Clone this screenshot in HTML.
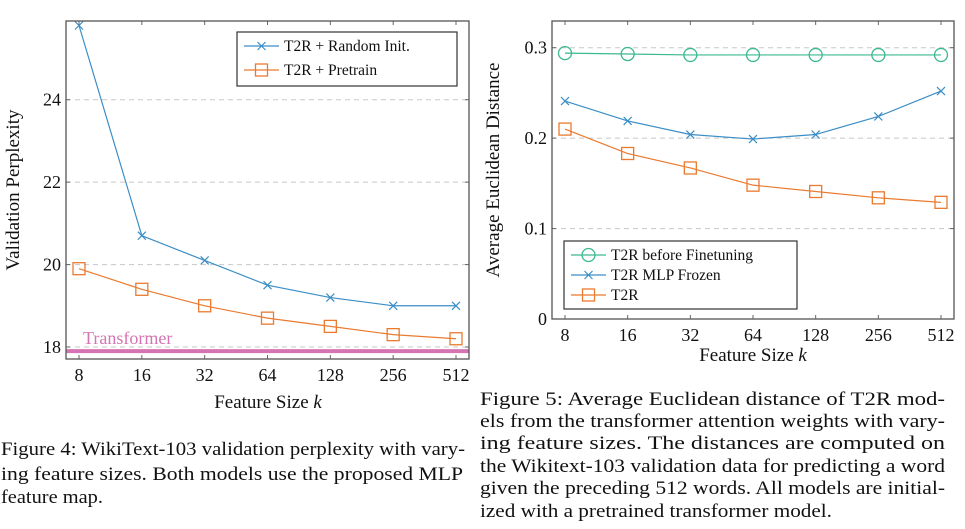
<!DOCTYPE html>
<html><head><meta charset="utf-8"><style>
html,body{margin:0;padding:0;background:#fff;}
svg{display:block;font-family:"Liberation Serif",serif;}
</style></head><body>
<svg id="root" width="965" height="529" viewBox="0 0 965 529">
<g id="left"></g>
<g id="right"></g>
<g font-size="19" fill="#111">
<text x="1" y="455" textLength="464" lengthAdjust="spacingAndGlyphs">Figure 4: WikiText-103 validation perplexity with vary-</text>
<text x="1" y="480" textLength="462" lengthAdjust="spacingAndGlyphs">ing feature sizes.  Both models use the proposed MLP</text>
<text x="1" y="503" textLength="102" lengthAdjust="spacingAndGlyphs">feature map.</text>
</g>
<g font-size="19" fill="#111">
<text x="480" y="405" textLength="465" lengthAdjust="spacingAndGlyphs">Figure 5:  Average Euclidean distance of T2R mod-</text>
<text x="480" y="427" textLength="465" lengthAdjust="spacingAndGlyphs">els from the transformer attention weights with vary-</text>
<text x="480" y="449" textLength="465" lengthAdjust="spacingAndGlyphs">ing feature sizes.   The distances are computed on</text>
<text x="480" y="472" textLength="465" lengthAdjust="spacingAndGlyphs">the Wikitext-103 validation data for predicting a word</text>
<text x="480" y="494" textLength="465" lengthAdjust="spacingAndGlyphs">given the preceding 512 words.  All models are initial-</text>
<text x="480" y="517" textLength="352" lengthAdjust="spacingAndGlyphs">ized with a pretrained transformer model.</text>
</g>
</svg>
<script>
const categories = ["8","16","32","64","128","256","512"];
const leftRandom = [25.8,20.7,20.1,19.5,19.2,19.0,19.0];
const leftPretrain = [19.9,19.4,19.0,18.7,18.5,18.3,18.2];
const transformerPPL = [17.9];
const leftTicks = [18,20,22,24];
const rightBefore = [0.294,0.293,0.292,0.292,0.292,0.292,0.292];
const rightFrozen = [0.241,0.219,0.204,0.199,0.204,0.224,0.252];
const rightT2R = [0.210,0.183,0.167,0.148,0.141,0.134,0.129];
const rightTicks = [0,0.1,0.2,0.3];
const rightTickLabels = ["0","0.1","0.2","0.3"];

const NS="http://www.w3.org/2000/svg";
const BLUE="#3b8ec6", ORANGE="#ea7a2f", GREEN="#3bb98c", PINK="#d474b2";
function mk(parent,tag,attrs){const e=document.createElementNS(NS,tag);for(const k in attrs)e.setAttribute(k,attrs[k]);parent.appendChild(e);return e;}
function txt(parent,x,y,s,attrs){const t=mk(parent,'text',Object.assign({x:x,y:y},attrs||{}));t.textContent=s;return t;}
function marker(g,type,x,y,color){
  if(type==='x'){mk(g,'path',{d:`M${x-4} ${y-4}L${x+4} ${y+4}M${x-4} ${y+4}L${x+4} ${y-4}`,stroke:color,'stroke-width':1.2,fill:'none'});}
  else if(type==='s'){mk(g,'rect',{x:x-6,y:y-6,width:12,height:12,stroke:color,'stroke-width':1.3,fill:'none'});}
  else {mk(g,'circle',{cx:x,cy:y,r:6.5,stroke:color,'stroke-width':1.3,fill:'none'});}
}
function chart(g,cfg){
  const xs=i=>cfg.x0+i*(cfg.x1-cfg.x0)/(categories.length-1);
  const ys=v=>cfg.yAt0+(v-cfg.v0)*(cfg.yAt1-cfg.yAt0)/(cfg.v1-cfg.v0);
  cfg.ticks.forEach((t,i)=>{
    const y=ys(t);
    if(cfg.grid(t)){const l=mk(g,'line',{x1:cfg.L,x2:cfg.R,y1:y,y2:y,stroke:'#c8c8c8','stroke-dasharray':'5 4','stroke-width':1});
      
      }
    mk(g,'line',{x1:cfg.L,x2:cfg.L+4,y1:y,y2:y,stroke:'#666'});
    mk(g,'line',{x1:cfg.R-4,x2:cfg.R,y1:y,y2:y,stroke:'#666'});
    const tl=txt(g,cfg.L-5,y+6,cfg.labels[i],{'text-anchor':'end','font-size':18,fill:'#111'});
    
    
  });
  categories.forEach((c,i)=>{
    const x=xs(i);
    mk(g,'line',{x1:x,x2:x,y1:cfg.B,y2:cfg.B-4,stroke:'#666'});
    mk(g,'line',{x1:x,x2:x,y1:cfg.T,y2:cfg.T+4,stroke:'#666'});
    const tl=txt(g,x,cfg.B+22,c,{'text-anchor':'middle','font-size':18,fill:'#111'});
    
    
  });
  cfg.extra && cfg.extra(g,xs,ys);
  cfg.series.forEach(s=>{
    const sg=mk(g,'g',{});
    
    
    mk(sg,'polyline',{points:s.data.map((v,i)=>xs(i)+','+ys(v)).join(' '),fill:'none',stroke:s.color,'stroke-width':1.2});
    s.data.forEach((v,i)=>marker(sg,s.m,xs(i),ys(v),s.color));
  });
  const box=mk(g,'rect',{x:cfg.L,y:cfg.T,width:cfg.R-cfg.L,height:cfg.B-cfg.T,fill:'none',stroke:'#555','stroke-width':1.3});
  
  
  const xt=txt(g,cfg.xtx,cfg.xty,'Feature Size ',{'text-anchor':'middle','font-size':19,fill:'#111'});
  const k=mk(xt,'tspan',{'font-style':'italic'});k.textContent='k';
  
  
  const yt=txt(g,0,0,cfg.ytitle,{'text-anchor':'middle','font-size':19,fill:'#111',transform:`translate(${cfg.ytx},${cfg.yty}) rotate(-90)`});
  
  
  const lg=mk(g,'g',{});
  
  
  mk(lg,'rect',{x:cfg.leg[0],y:cfg.leg[1],width:cfg.leg[2],height:cfg.leg[3],fill:'#fff',stroke:'#333','stroke-width':1.2});
  cfg.series.forEach((s,i)=>{
    const y=cfg.leg[1]+cfg.legY0+i*cfg.legDy;
    const e=mk(lg,'g',{});
    
    
    mk(e,'line',{x1:cfg.leg[0]+7,x2:cfg.leg[0]+42,y1:y,y2:y,stroke:s.color,'stroke-width':1.2});
    marker(e,s.m,cfg.leg[0]+24.5,y,s.color);
    txt(e,cfg.leg[0]+47,y+5,s.label,{'font-size':15.5,fill:'#111'});
  });
}
chart(document.getElementById('left'),{
  L:66,R:469,T:21,B:359,x0:79,x1:456,v0:18,v1:24,yAt0:347,yAt1:99.7,
  ticks:leftTicks,labels:leftTicks.map(String),grid:t=>true,
  xtx:268,xty:408,ytx:19,yty:190,ytitle:'Validation Perplexity',
  leg:[237,32,220,54],legY0:14,legDy:24,
  series:[{name:'series-random-init',data:leftRandom,color:BLUE,m:'x',label:'T2R + Random Init.'},
          {name:'series-pretrain',data:leftPretrain,color:ORANGE,m:'s',label:'T2R + Pretrain'}],
  extra:(g,xs,ys)=>{
    const y=ys(transformerPPL[0]);
    const l=mk(g,'line',{x1:66,x2:469,y1:y,y2:y,stroke:PINK,'stroke-width':4});
    
    
    const t=txt(g,83,y-7,'Transformer',{'font-size':18,fill:PINK});
    
    
  }
});
chart(document.getElementById('right'),{
  L:552,R:954,T:21,B:319,x0:565,x1:941,v0:0,v1:0.3,yAt0:319,yAt1:47.7,
  ticks:rightTicks,labels:rightTickLabels,grid:t=>t>0,
  xtx:753,xty:361,ytx:499,yty:170,ytitle:'Average Euclidean Distance',
  leg:[564,241,233,68],legY0:14,legDy:20,
  series:[{name:'series-before-finetuning',data:rightBefore,color:GREEN,m:'o',label:'T2R before Finetuning'},
          {name:'series-mlp-frozen',data:rightFrozen,color:BLUE,m:'x',label:'T2R MLP Frozen'},
          {name:'series-t2r',data:rightT2R,color:ORANGE,m:'s',label:'T2R'}]
});
</script>
</body></html>
